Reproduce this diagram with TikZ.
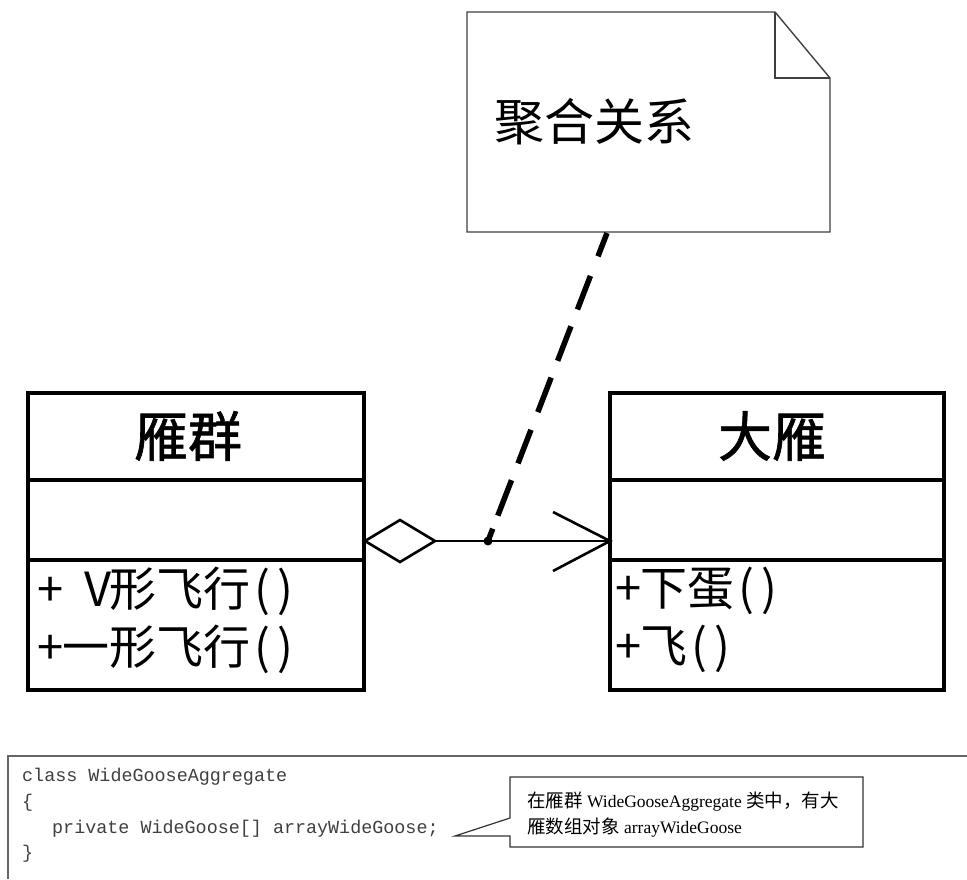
\documentclass[tikz,border=0pt]{standalone}
\usepackage{fontspec}
\setmainfont{Liberation Serif}
\setmonofont{Liberation Mono}
\newfontfamily\cjk{Noto Sans CJK SC}
\newfontfamily\cjkb[FakeBold=1.2]{Noto Sans CJK SC}
\newcommand{\hw}[1]{\makebox[0.5em]{#1}}
\begin{document}
\begin{tikzpicture}[x=1pt,y=-1pt,
  part/.style={draw=black,line width=3.2pt,rectangle,inner sep=0pt},
  titletext/.style={font=\cjkb\fontsize{54}{60}\selectfont,inner sep=0pt},
  methtext/.style={font=\cjk\fontsize{47}{54}\selectfont,inner sep=0pt,anchor=west},
  codetext/.style={font=\ttfamily\fontsize{18.4}{20}\selectfont,inner sep=0pt,anchor=west,text=black!75},
  calltext/.style={font=\fontsize{17.5}{19}\selectfont,inner sep=0pt,anchor=west},
  conn/.style={line width=2.6pt,black}]
\newcommand{\cs}{\cjk\fontsize{18.5}{19}\selectfont}
\useasboundingbox (0,0) rectangle (967,879);
\fill[white] (0,0) rectangle (967,879);

% note
\draw[line width=1.4pt,black!75] (467,12) -- (775,12) -- (830,78) -- (830,232) -- (467,232) -- cycle;
\draw[line width=1.4pt,black!75] (775,12) -- (775,78) -- (830,78);
\node[font=\cjk\fontsize{50}{56}\selectfont,inner sep=0pt,anchor=west] (notetext) at (494,122) {聚合关系};
\coordinate (notefoot) at (607,233);

% left class
\node[part,minimum width=336pt,minimum height=87pt] (lt) at (196,436.5) {};
\node[part,minimum width=336pt,minimum height=80pt] (la) at (196,520) {};
\node[part,minimum width=336pt,minimum height=130pt] (lm) at (196,625) {};
\node[titletext] (ltt) at (188,436) {雁群};
\node[methtext] (lm1) at (39,591) {\hw{+}\hw{ }\hw{V}形飞行\hw{(}\hw{)}};
\node[methtext] (lm2) at (39,649) {\hw{+}一形飞行\hw{(}\hw{)}};

% right class
\node[part,minimum width=334pt,minimum height=87pt] (rt) at (777,436.5) {};
\node[part,minimum width=334pt,minimum height=80pt] (ra) at (777,520) {};
\node[part,minimum width=334pt,minimum height=130pt] (rm) at (777,625) {};
\node[titletext] (rtt) at (772,436) {大雁};
\node[methtext] (rm1) at (617,591) {\hw{+}下蛋\hw{(}\hw{)}};
\node[methtext] (rm2) at (617,649) {\hw{+}飞\hw{(}\hw{)}};

% aggregation connector
\coordinate (dl) at (365,541);
\coordinate (dt) at (400,520);
\coordinate (dr) at (435,541);
\coordinate (db) at (400,562);
\coordinate (tip) at (610,541);
\draw[conn,line join=miter] (dl) -- (dt) -- (dr) -- (db) -- cycle;
\draw[conn] (dr) -- (tip);
\draw[conn] (553,512) -- (tip) -- (553,571);

% dashed note link
\coordinate (linkend) at (488,541);
\draw[line width=5.5pt,black,dash pattern=on 25pt off 21pt on 36pt off 18pt on 37pt off 18pt on 37pt off 19pt on 36pt off 18pt on 38pt off 14pt on 20pt] (notefoot) -- (linkend);
\fill[black] (linkend) circle (4.5pt);

% code frame
\draw[line width=1.4pt,black!60] (8,879) -- (8,756) -- (967,756);
\node[codetext] (c1) at (22,777) {class WideGooseAggregate};
\node[codetext] (c2) at (22,803) {\{};
\node[codetext] (c3) at (52,829) {private WideGoose[] arrayWideGoose;};
\node[codetext] (c4) at (22,854) {\}};

% callout
\draw[line width=1.2pt,black!80] (510,777) -- (863,777) -- (863,847) -- (510,847) -- (510,836) -- (455,836) -- (510,818) -- cycle;
\node[calltext] (k1) at (527,802) {{\cs 在雁群} WideGooseAggregate {\cs 类中，有大}};
\node[calltext] (k2) at (527,828) {{\cs 雁数组对象} arrayWideGoose};
\end{tikzpicture}
\end{document}
